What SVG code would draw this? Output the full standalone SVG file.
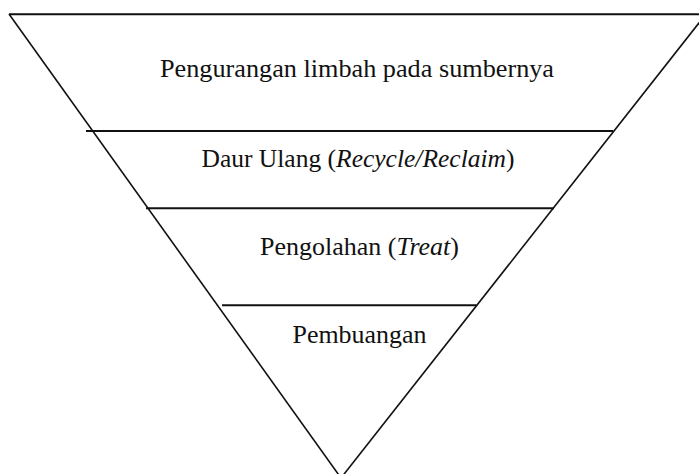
<svg xmlns="http://www.w3.org/2000/svg" width="699" height="474" viewBox="0 0 699 474">
<style>
.edge{stroke:#111;stroke-width:1.6;fill:none}
.bar{stroke:#111;stroke-width:2;fill:none}
.lbl{font-family:'Liberation Serif','Times New Roman',serif;font-size:24.5px;fill:#111}
.it{font-style:italic}
</style>
<rect width="699" height="474" fill="#fff"/>
<g id="connectors">
<line class="bar" x1="9" y1="14.3" x2="710" y2="14.3"/>
<line class="edge" x1="9" y1="14" x2="341" y2="478"/>
<line class="edge" x1="706" y1="14" x2="341" y2="478"/>
<line class="bar" x1="86" y1="131" x2="613" y2="131"/>
<line class="bar" x1="146" y1="208.3" x2="554" y2="208.3"/>
<line class="bar" x1="222" y1="305.3" x2="476.5" y2="305.3"/>
</g>
<g id="node-1"><text class="lbl" x="160" y="77" textLength="394" lengthAdjust="spacingAndGlyphs">Pengurangan limbah pada sumbernya</text></g>
<g id="node-2"><text class="lbl" x="201.5" y="167" textLength="313" lengthAdjust="spacingAndGlyphs">Daur Ulang (<tspan class="it">Recycle/Reclaim</tspan>)</text></g>
<g id="node-3"><text class="lbl" x="260" y="255" textLength="199" lengthAdjust="spacingAndGlyphs">Pengolahan (<tspan class="it">Treat</tspan>)</text></g>
<g id="node-4"><text class="lbl" x="292.5" y="343" textLength="134" lengthAdjust="spacingAndGlyphs">Pembuangan</text></g>
</svg>
